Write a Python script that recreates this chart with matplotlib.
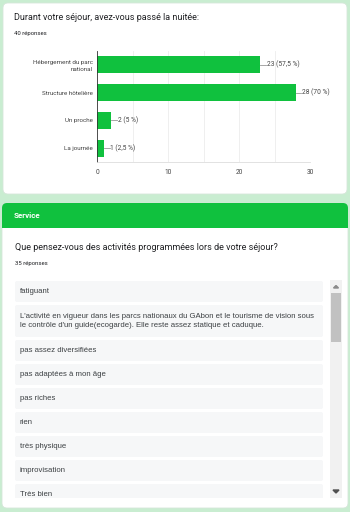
import matplotlib
matplotlib.use('Agg')
import matplotlib.pyplot as plt
from matplotlib.patches import FancyBboxPatch, Rectangle

plt.rcParams['font.family'] = ['Roboto', 'DejaVu Sans']

# chart data
categories = ['Hébergement du parc\nnational', 'Structure hôtelière', 'Un proche', 'La journée']
counts = [23, 28, 2, 1]
pct_labels = ['57,5 %', '70 %', '5 %', '2,5 %']
total_responses = 40

# texts
title1 = 'Durant votre séjour, avez-vous passé la nuitée:'
section = 'Service'
title2 = 'Que pensez-vous des activités programmées lors de votre séjour?'
n_responses2 = 35
answers = ['fatiguant',
           "L'activité en vigueur dans les parcs nationaux du GAbon et le tourisme de vision sous\n"
           "le contrôle d'un guide(ecogarde). Elle reste assez statique et caduque.",
           'pas assez diversifiées',
           'pas adaptées à mon âge',
           'pas riches',
           'rien',
           'très physique',
           'improvisation',
           'Très bien']

GREEN = '#10c13e'
BG = '#c9edd1'
W, H = 350, 512

fig = plt.figure(figsize=(W / 100, H / 100), dpi=100)
fig.patch.set_facecolor(BG)
base = fig.add_axes([0, 0, 1, 1])
base.set_xlim(0, W)
base.set_ylim(H, 0)
base.axis('off')

# top card
base.add_patch(FancyBboxPatch((3, 3), 344, 191, boxstyle='round,pad=0,rounding_size=5',
                              fc='white', ec='#d6e6da', lw=0.6))
base.text(14, 18, title1, fontsize=6.5, color='#202124', va='center')
base.text(14, 34, '%d réponses' % total_responses, fontsize=4.3, color='#202124', va='center')

# service card
base.add_patch(FancyBboxPatch((2, 203), 346, 305, boxstyle='round,pad=0,rounding_size=5',
                              fc='white', ec='#d6e6da', lw=0.6))
base.add_patch(FancyBboxPatch((2, 203), 346, 25, boxstyle='round,pad=0,rounding_size=5',
                              fc=GREEN, ec='none'))
base.add_patch(Rectangle((2, 215), 346, 13, fc=GREEN, ec='none'))
base.text(14, 216, section, fontsize=5.8, color='white', fontweight='bold', va='center')
base.text(15, 247, title2, fontsize=6.5, color='#202124', va='center')
base.text(15, 263, '%d réponses' % n_responses2, fontsize=4.3, color='#202124', va='center')

# answer list, clipped at the bottom of the scroll area
clip = Rectangle((0, 278), W, 220, transform=base.transData, fc='none', ec='none')
y = 281
for a in answers:
    h = 32 if '\n' in a else 21
    p = FancyBboxPatch((15, y), 308, h, boxstyle='round,pad=0,rounding_size=2',
                       fc='#f6f7f8', ec='none')
    base.add_patch(p)
    p.set_clip_path(clip)
    t = base.text(20, y + h / 2, a, fontsize=5.6, color='#3c4043', va='center',
                  linespacing=1.35, family=['Liberation Sans', 'DejaVu Sans'])
    t.set_clip_path(clip)
    y += h + 3

# scrollbar
base.add_patch(Rectangle((330, 280), 12, 218, fc='#f1f1f1', ec='none'))
base.add_patch(Rectangle((331, 293), 10, 49, fc='#c1c1c1', ec='none'))
base.fill([333.5, 336, 338.5], [288, 285.5, 288], color='#8a8a8a')
base.fill([333, 336, 339], [490, 493, 490], color='#505050')

# bar chart
ax = fig.add_axes([97 / W, 1 - 162 / H, 213 / W, 111 / H])
ypos = list(range(len(categories)))
ax.barh(ypos, counts, height=0.62, color=GREEN)
ax.set_ylim(len(categories) - 0.5, -0.5)
ax.set_xlim(0, 30)
ax.set_yticks(ypos)
ax.set_yticklabels(categories, fontsize=4.5, color='#444444', linespacing=1.5)
ax.set_xticks([0, 10, 20, 30])
ax.set_xticks([5, 15, 25], minor=True)
ax.tick_params(axis='x', labelsize=4.7, labelcolor='#444444', length=0, pad=5, which='both')
ax.tick_params(axis='y', length=0, pad=3)
ax.grid(axis='x', which='both', color='#ececec', lw=0.6)
ax.set_axisbelow(True)
for s in ['top', 'right']:
    ax.spines[s].set_visible(False)
ax.spines['bottom'].set_color('#dddddd')
ax.spines['bottom'].set_linewidth(0.6)
ax.spines['left'].set_color('#333333')
ax.spines['left'].set_linewidth(0.6)
for i, (c, p) in enumerate(zip(counts, pct_labels)):
    ax.plot([c, c + 0.8], [i, i], color='#999999', lw=0.6, clip_on=False)
    ax.text(c + 0.9, i, '%d (%s)' % (c, p), fontsize=4.8, color='#444444', va='center')

fig.savefig('out.png', dpi=100, facecolor=BG)
